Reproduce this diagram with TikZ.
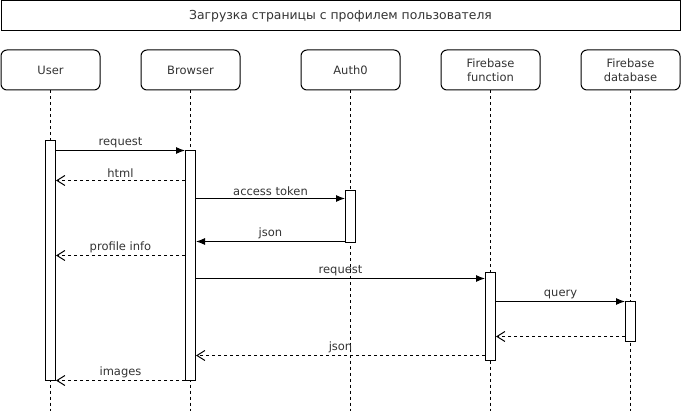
\documentclass[tikz,border=0pt]{standalone}
\usepackage{fontspec}
\setmainfont{DejaVu Sans}
\usetikzlibrary{arrows.meta}
\definecolor{txt}{HTML}{333333}
\begin{document}
\begin{tikzpicture}[x=1pt,y=-1pt,
  font=\fontsize{11.5}{13}\selectfont, text=txt, line width=1pt,
  hdr/.style={draw=black, rounded corners=6pt, minimum width=99pt, minimum height=40pt, inner sep=1pt, align=center, font=\fontsize{11.5}{13.5}\selectfont},
  lifeline/.style={draw=black, dash pattern=on 3pt off 3pt},
  act/.style={draw=black, fill=white, minimum width=10pt, inner sep=0pt},
  call/.style={draw=black, -{Latex[length=9pt,width=7pt]}},
  ret/.style={draw=black, dash pattern=on 3pt off 3pt, -{Straight Barb[length=8pt,width=10pt,line width=1pt]}},
  lbl/.style={above, midway, inner sep=2pt, text=txt}]
\useasboundingbox (0,0) rectangle (682,411);
\node[draw=black, minimum width=679pt, minimum height=30pt, anchor=north west, inner sep=0pt, font=\fontsize{12.4}{14}\selectfont] (title) at (0.5,0.5) {Загрузка страницы с профилем пользователя};
% headers
\node[hdr] (hU) at (50.5,70) {User};
\node[hdr] (hB) at (190.5,70) {Browser};
\node[hdr] (hA) at (350.5,70) {Auth0};
\node[hdr] (hF) at (490.5,70) {Firebase\\function};
\node[hdr] (hD) at (630.5,70) {Firebase\\database};
% lifeline ends
\coordinate (eU) at (50.5,411);
\coordinate (eB) at (190.5,411);
\coordinate (eA) at (350.5,411);
\coordinate (eF) at (490.5,411);
\coordinate (eD) at (630.5,411);
\draw[lifeline] (hU.south) -- (eU);
\draw[lifeline] (hB.south) -- (eB);
\draw[lifeline] (hA.south) -- (eA);
\draw[lifeline] (hF.south) -- (eF);
\draw[lifeline] (hD.south) -- (eD);
% activations
\node[act, minimum height=240pt] (aU) at (50.5,260.5) {};
\node[act, minimum height=230pt] (aB) at (190.5,265.5) {};
\node[act, minimum height=52pt] (aA) at (350.5,216.5) {};
\node[act, minimum height=87pt] (aF) at (490.5,316.5) {};
\node[act, minimum height=40pt] (aD) at (630.5,321.5) {};
% message rows
\coordinate (y1) at (0,150.5);
\coordinate (y2) at (0,180.5);
\coordinate (y3) at (0,198.5);
\coordinate (y4) at (0,241.5);
\coordinate (y5) at (0,255.5);
\coordinate (y6) at (0,278.5);
\coordinate (y7) at (0,301.5);
\coordinate (y8) at (0,336.5);
\coordinate (y9) at (0,355.5);
\coordinate (y10) at (0,380.5);
\draw[call] (aU.east |- y1) -- (aB.west |- y1) node[lbl] {request};
\draw[ret] (aB.west |- y2) -- (aU.east |- y2) node[lbl] {html};
\draw[call] (aB.east |- y3) -- (aA.west |- y3) node[lbl] {access token};
\draw[call] (aA.west |- y4) -- (aB.east |- y4) node[lbl] {json};
\draw[ret] (aB.west |- y5) -- (aU.east |- y5) node[lbl] {profile info};
\draw[call] (aB.east |- y6) -- (aF.west |- y6) node[lbl] {request};
\draw[call] (aF.east |- y7) -- (aD.west |- y7) node[lbl] {query};
\draw[ret] (aD.west |- y8) -- (aF.east |- y8);
\draw[ret] (aF.west |- y9) -- (aB.east |- y9) node[lbl] {json};
\draw[ret] (aB.west |- y10) -- (aU.east |- y10) node[lbl] {images};
\end{tikzpicture}
\end{document}
